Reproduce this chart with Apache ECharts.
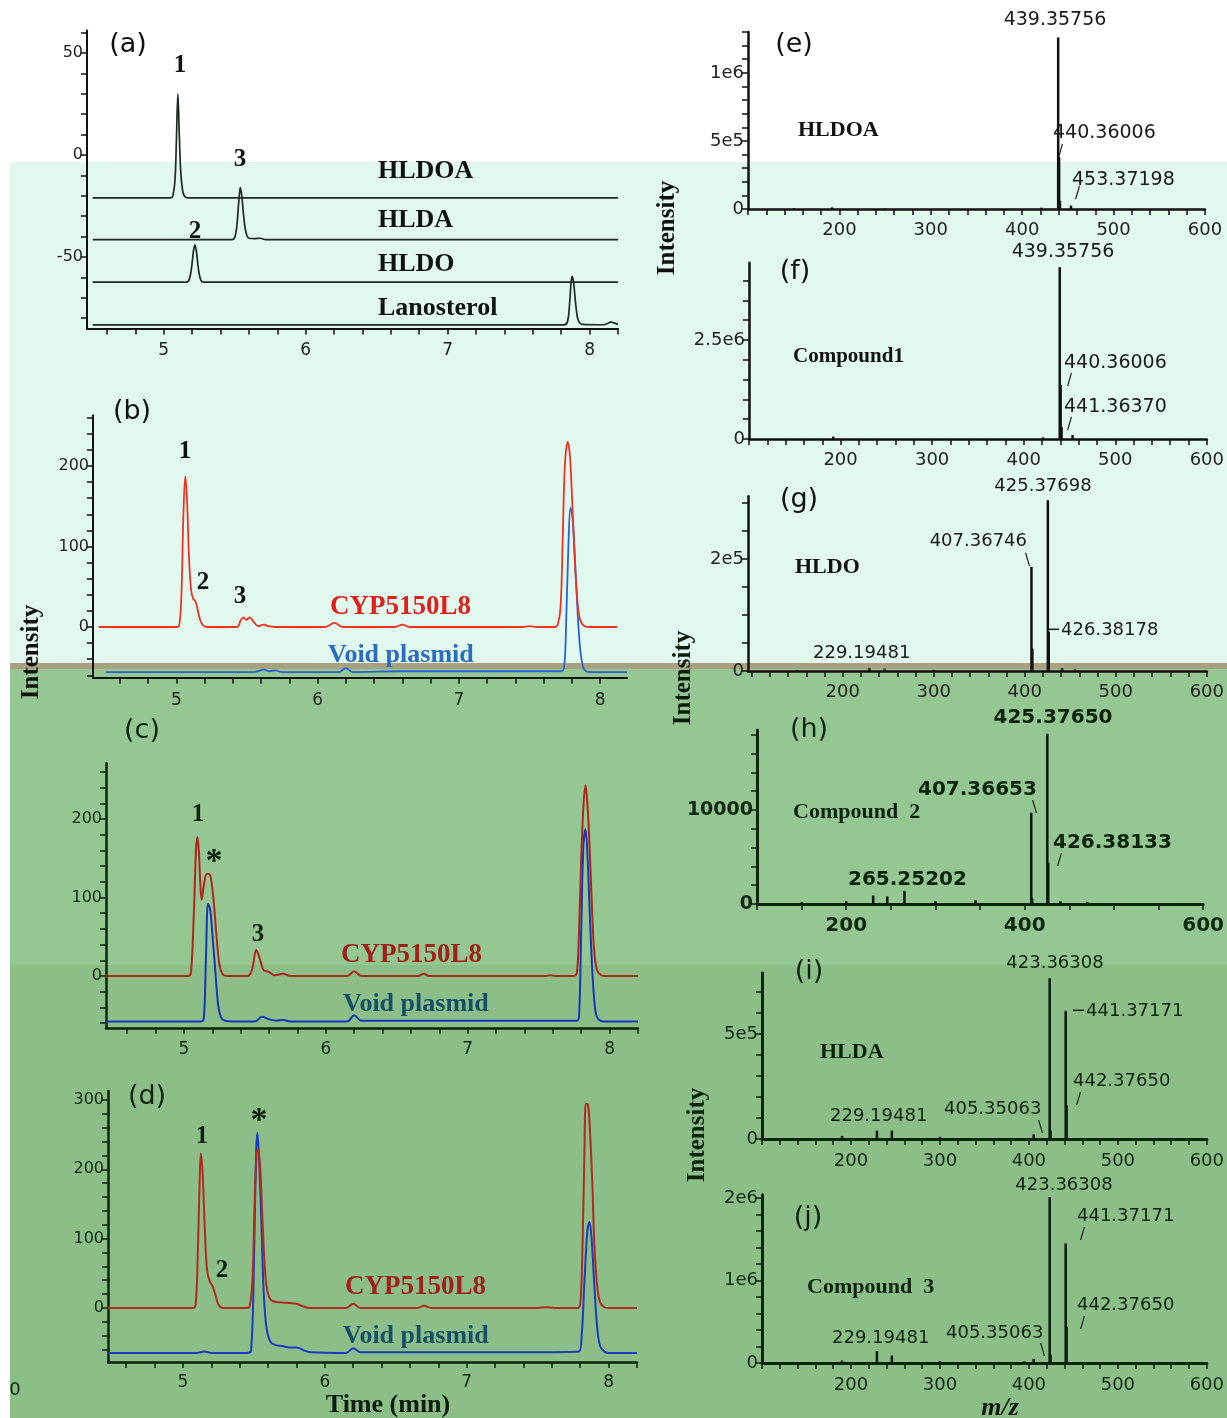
<!DOCTYPE html>
<html><head><meta charset="utf-8">
<script src="https://cdn.jsdelivr.net/npm/echarts@6/dist/echarts.min.js"></script>
<style>html,body{margin:0;padding:0;background:#fff}#c{width:1227px;height:1418px}</style>
</head><body><div id="c"></div>
<script>
// ---------------- DATA ----------------
// (a) standards, retention time (min) vs signal (with display offsets)
const a_HLDOA = [[4.5,-21],[5.05,-21],[5.065,-20],[5.08,-12],[5.09,8],[5.1,30],[5.11,10],[5.12,-8],[5.135,-18],[5.15,-20.5],[5.17,-21],[8.2,-21]];
const a_HLDA = [[4.5,-41.5],[5.48,-41.5],[5.5,-40.5],[5.515,-35],[5.53,-22],[5.54,-16],[5.55,-20],[5.565,-31],[5.58,-38],[5.6,-40.8],[5.64,-41],[5.68,-40.8],[5.72,-41.5],[8.2,-41.5]];
const a_HLDO = [[4.5,-62.3],[5.16,-62.3],[5.18,-61],[5.195,-56],[5.21,-47],[5.22,-44],[5.23,-47],[5.245,-56],[5.26,-61],[5.28,-62.3],[8.2,-62.3]];
const a_Lano = [[4.5,-83.3],[7.82,-83.3],[7.845,-81.5],[7.86,-72],[7.87,-62],[7.878,-59.5],[7.888,-63],[7.905,-75],[7.92,-81],[7.95,-83],[8.1,-83.2],[8.13,-82.5],[8.15,-81.8],[8.17,-82.3],[8.2,-83]];
// (b)
const b_CYP = [[4.45,0],[5.0,0],[5.02,2],[5.035,35],[5.05,140],[5.063,187],[5.075,160],[5.09,85],[5.105,45],[5.12,35],[5.135,32],[5.15,22],[5.17,8],[5.19,2],[5.22,0],[5.43,0],[5.455,8],[5.475,12],[5.495,9],[5.52,12],[5.545,7],[5.58,1],[5.62,3],[5.65,1],[5.7,0],[6.05,0],[6.12,5],[6.18,0],[6.55,0],[6.6,3],[6.65,0],[7.45,0],[7.5,1],[7.55,0],[7.68,0],[7.7,3],[7.72,25],[7.735,110],[7.75,200],[7.77,230],[7.785,215],[7.8,165],[7.82,85],[7.84,30],[7.86,8],[7.89,1],[7.93,0],[8.12,0]];
const b_Void = [[4.5,-56],[5.55,-56],[5.62,-53],[5.66,-55],[5.7,-54],[5.75,-56],[6.15,-56],[6.2,-51],[6.25,-56],[6.6,-55],[7.55,-55],[7.72,-55],[7.745,-50],[7.76,10],[7.775,100],[7.79,148],[7.805,135],[7.82,90],[7.84,20],[7.86,-30],[7.88,-50],[7.9,-55],[7.93,-56],[8.19,-56]];
// (c)
const c_CYP = [[4.45,0],[5.03,0],[5.05,5],[5.07,80],[5.085,160],[5.095,177],[5.105,160],[5.115,120],[5.125,97],[5.14,115],[5.16,130],[5.175,130],[5.19,125],[5.21,95],[5.23,50],[5.25,15],[5.27,3],[5.3,0],[5.45,0],[5.48,8],[5.51,33],[5.535,22],[5.56,8],[5.6,5],[5.64,1],[5.7,3],[5.75,0],[6.15,0],[6.2,6],[6.25,0],[6.65,0],[6.69,3],[6.73,0],[7.55,0],[7.58,1],[7.62,0],[7.75,0],[7.77,5],[7.785,60],[7.8,150],[7.815,215],[7.83,243],[7.845,215],[7.86,160],[7.875,90],[7.89,35],[7.91,8],[7.94,1],[7.97,0],[8.2,0]];
const c_Void = [[4.45,-58],[5.12,-58],[5.14,-55],[5.155,20],[5.17,92],[5.185,85],[5.2,55],[5.22,10],[5.24,-35],[5.26,-52],[5.29,-57],[5.35,-58],[5.5,-58],[5.55,-52],[5.6,-55],[5.65,-57],[5.7,-56],[5.75,-58],[6.15,-58],[6.2,-50],[6.25,-57],[6.65,-57],[7.55,-57],[7.77,-57],[7.785,-50],[7.8,60],[7.815,165],[7.83,187],[7.845,150],[7.86,80],[7.88,0],[7.9,-45],[7.92,-55],[7.96,-58],[8.2,-58]];
// (d)
const d_CYP = [[4.47,0],[5.07,0],[5.09,5],[5.105,80],[5.12,200],[5.127,223],[5.14,190],[5.155,110],[5.17,55],[5.19,38],[5.21,31],[5.23,18],[5.25,5],[5.28,0],[5.45,0],[5.47,2],[5.49,40],[5.505,150],[5.52,225],[5.53,229],[5.545,200],[5.56,130],[5.58,50],[5.6,20],[5.63,10],[5.7,8],[5.75,7],[5.8,6],[5.85,2],[5.9,0],[6.15,0],[6.2,6],[6.25,0],[6.65,0],[6.7,3],[6.75,0],[7.5,0],[7.56,1],[7.62,0],[7.78,0],[7.8,5],[7.815,80],[7.83,230],[7.84,295],[7.855,293],[7.87,250],[7.885,180],[7.9,90],[7.92,30],[7.94,8],[7.97,1],[8.0,0],[8.2,0]];
const d_Void = [[4.47,-65],[5.1,-65],[5.15,-63],[5.2,-65],[5.45,-65],[5.48,-62],[5.5,60],[5.515,220],[5.525,253],[5.54,200],[5.555,110],[5.57,20],[5.59,-30],[5.62,-50],[5.66,-54],[5.7,-55],[5.75,-57],[5.8,-57],[5.85,-61],[5.9,-64],[6.15,-65],[6.2,-58],[6.25,-64],[6.65,-64],[7.5,-64],[7.79,-63],[7.81,-40],[7.83,40],[7.85,110],[7.865,124],[7.88,100],[7.9,30],[7.92,-30],[7.94,-55],[7.97,-63],[8.0,-65],[8.2,-65]];
// mass spectra, m/z vs intensity
const specE = [[150,5e3],[192,1.2e4],[250,3e3],[421,1e4],[439.36,1.26e6],[440.36,3.8e5],[441.36,6e4],[453.37,2.5e4]];
const specF = [[192,6e4],[421,4e4],[439.36,4.34e6],[440.36,1.36e6],[441.36,3e5],[453.37,1e5]];
const specG = [[150,2e3],[229.19,5e3],[246,4e3],[300,2e3],[407.37,1.86e5],[408.37,4e4],[425.38,3.05e5],[426.38,7e4],[441,5e3],[455,3e3]];
const specH = [[150,200],[200,300],[230.2,900],[246,800],[265.25,1400],[300,300],[345,400],[407.37,9700],[408.37,600],[425.38,18100],[426.38,4400],[440,300],[470,200]];
const specI = [[190,1.5e4],[229.19,4e4],[246,4e4],[300,1e4],[405.35,2.2e4],[423.36,7.65e5],[424.37,4e4],[441.37,6.1e5],[442.38,1.6e5]];
const specJ = [[190,3e4],[229.19,1.45e5],[246,9e4],[300,2e4],[395,2e4],[405.35,5e4],[423.36,2.01e6],[424.37,1e5],[441.37,1.45e6],[442.38,4.4e5]];
// tick labels
const timeTicks = [5,6,7,8];
const yLabA = [-50,0,50], yLabB = [0,100,200], yLabC = [0,100,200], yLabD = [0,100,200,300];
const mzTicks = [200,300,400,500,600], mzTicksH = [200,400,600];
const yLabE = [[0,'0'],[5e5,'5e5'],[1e6,'1e6']];
const yLabF = [[0,'0'],[2.5e6,'2.5e6']];
const yLabG = [[0,'0'],[2e5,'2e5']];
const yLabH = [[0,'0'],[10000,'10000']];
const yLabI = [[0,'0'],[5e5,'5e5']];
const yLabJ = [[0,'0'],[1e6,'1e6'],[2e6,'2e6']];

// ---------------- LAYOUT ----------------
function range(a,b,s){const r=[];for(let v=a;v<=b+1e-9;v+=s)r.push(+v.toFixed(6));return r;}
const DK='#111', GR='#0b250b', GRT='#0f2a0f';
const panels = [
 {grid:{left:87,top:30.6,width:531,height:297.8},x:[4.46,8.2],y:[-85,61],xt:range(4.6,8.2,0.2),xl:timeTicks,yt:range(-80,60,10),yl:yLabA.map(v=>[v,String(v)]),ac:DK,lc:'#222',fs:16,xfs:17,lw:2,xm:14},
 {grid:{left:93,top:415.3,width:534,height:262.4},x:[4.41,8.19],y:[-63,263],xt:range(4.6,8.18,0.2),xl:timeTicks,yt:range(-60,260,20),yl:yLabB.map(v=>[v,String(v)]),ac:DK,lc:'#222',fs:16,xfs:17,lw:2,xm:14},
 {grid:{left:106,top:763.3,width:532,height:264.5},x:[4.451,8.2],y:[-66,271],xt:range(4.6,8.2,0.2),xl:timeTicks,yt:range(-60,260,20),yl:yLabC.map(v=>[v,String(v)]),ac:GR,lc:GRT,fs:16,xfs:17,lw:2.5,xm:13},
 {grid:{left:108,top:1091,width:529,height:271},x:[4.472,8.2],y:[-78,313],xt:range(4.6,8.2,0.2),xl:timeTicks,yt:range(-60,300,20),yl:yLabD.map(v=>[v,String(v)]),ac:GR,lc:GRT,fs:16,xfs:17,lw:2.5,xm:12},
 {grid:{left:748,top:32,width:457,height:177},x:[100,600],y:[0,1.3e6],xt:range(100,600,20),xl:mzTicks,yt:range(0,1.3e6,1e5),yl:yLabE,ac:DK,lc:'#222',fs:18,xfs:18,lw:2.5,xm:12},
 {grid:{left:749,top:262.8,width:464,height:176.2},x:[100,600],y:[0,4.45e6],xt:range(100,600,20),xl:mzTicks,yt:range(0,4.45e6,5e5),yl:yLabF,ac:DK,lc:'#222',fs:18,xfs:18,lw:2.5,xm:12},
 {grid:{left:748,top:496.3,width:464,height:174.7},x:[96,600],y:[0,3.12e5],xt:range(100,600,20),xl:mzTicks,yt:range(0,3e5,5e4),yl:yLabG,ac:DK,lc:'#222',fs:18,xfs:18,lw:2.5,xm:12},
 {grid:{left:757,top:730,width:454,height:174},x:[100,600],y:[0,18500],xt:range(100,600,50),xl:mzTicksH,yt:range(0,18000,2000),yl:yLabH,ac:GR,lc:GRT,fs:19,xfs:20,lw:3,bold:true,xm:12},
 {grid:{left:762,top:973,width:455,height:166},x:[100,600],y:[0,7.9e5],xt:range(100,600,20),xl:mzTicks,yt:range(0,7e5,1e5),yl:yLabI,ac:GR,lc:GRT,fs:18,xfs:18,lw:3,xm:13},
 {grid:{left:762,top:1194.7,width:462,height:168.3},x:[100,600],y:[0,2.04e6],xt:range(100,600,20),xl:mzTicks,yt:range(0,2e6,2e5),yl:yLabJ,ac:GR,lc:GRT,fs:18,xfs:18,lw:3,xm:13}
];

const grids=[],xAxes=[],yAxes=[];
panels.forEach((p,i)=>{
  grids.push(Object.assign({containLabel:false,show:false},p.grid));
  const fw = p.bold?'bold':'normal';
  xAxes.push({type:'value',gridIndex:i,min:p.x[0],max:p.x[1],splitLine:{show:false},
    axisLine:{show:true,onZero:false,lineStyle:{color:p.ac,width:p.lw}},
    axisTick:{show:true,customValues:p.xt,length:6,lineStyle:{color:p.ac,width:1.5}},
    axisLabel:{show:true,customValues:p.xl,formatter:v=>String(Math.round(v)),color:p.lc,fontFamily:'DejaVu Sans',fontSize:p.xfs,fontWeight:fw,margin:p.xm}});
  const labs=p.yl;
  yAxes.push({type:'value',gridIndex:i,min:p.y[0],max:p.y[1],splitLine:{show:false},
    axisLine:{show:true,onZero:false,lineStyle:{color:p.ac,width:p.lw}},
    axisTick:{show:true,customValues:p.yt,length:6,lineStyle:{color:p.ac,width:1.5}},
    axisLabel:{show:true,customValues:labs.map(l=>l[0]),formatter:v=>{let best=labs[0];labs.forEach(l=>{if(Math.abs(l[0]-v)<Math.abs(best[0]-v))best=l;});return best[1];},color:p.lc,fontFamily:'DejaVu Sans',fontSize:p.fs,fontWeight:fw,margin:4}});
});

function line(i,data,color,w){return {type:'line',xAxisIndex:i,yAxisIndex:i,data,showSymbol:false,smooth:0.35,lineStyle:{color,width:w},silent:true,z:3};}
function bars(i,data,color){return {type:'bar',xAxisIndex:i,yAxisIndex:i,data,barWidth:2.5,itemStyle:{color},silent:true,z:3};}
const series=[
 line(0,a_HLDOA,'#1d2a22',1.7),line(0,a_HLDA,'#1d2a22',1.7),line(0,a_HLDO,'#1d2a22',1.7),line(0,a_Lano,'#1d2a22',1.7),
 line(1,b_Void,'#2962d6',1.8),line(1,b_CYP,'#ee3326',1.8),
 line(2,c_Void,'#1536b8',2),line(2,c_CYP,'#b0241c',2),
 line(3,d_Void,'#1a3cc0',2),line(3,d_CYP,'#b32a1c',2),
 bars(4,specE,'#111'),bars(5,specF,'#111'),bars(6,specG,'#111'),bars(7,specH,'#081a08'),bars(8,specI,'#081a08'),bars(9,specJ,'#081a08')
];

// ---------------- TEXT / BACKGROUND ----------------
const SERIF='"Liberation Serif","DejaVu Serif",serif', SANS='"DejaVu Sans",sans-serif';
const el=[];
function bg(y0,y1,c){el.push({type:'rect',shape:{x:10,y:y0,width:1217,height:y1-y0},style:{fill:c},z:-100,silent:true});}
bg(162,663,'#e0f8ee');bg(663,669,'#a9a07f');bg(669,965,'#95c792');bg(965,1418,'#8cbf88');
function T(t,x,y,o){o=o||{};el.push({type:'text',x,y,rotation:o.rot||0,z:100,silent:true,style:{text:t,fill:o.c||'#111',
  font:(o.it?'italic ':'')+(o.w||'bold')+' '+(o.s||26)+'px '+(o.f||SERIF),textAlign:o.a||'left',textVerticalAlign:'middle',verticalAlign:'middle',align:o.a||'left'}});}
const g1='#0c240c';
// panel letters
[['(a)',128,45,'#111'],['(b)',132,412,'#111'],['(c)',142,731,g1],['(d)',147,1097,g1],
 ['(e)',794,45,'#111'],['(f)',795,272,'#111'],['(g)',799,500,'#111'],['(h)',809,730,g1],['(i)',809,972,g1],['(j)',808,1218,g1]]
 .forEach(r=>T(r[0],r[1],r[2],{a:'center',w:'normal',s:27,f:SANS,c:r[3]}));
// left peak numbers
[['1',180,66,'#111'],['3',240,160,'#111'],['2',195,232,'#111'],
 ['1',185,452,'#111'],['2',203,583,'#111'],['3',240,597,'#111'],
 ['1',198,815,g1],['3',258,935,g1],['1',202,1137,g1],['2',222,1271,g1]]
 .forEach(r=>T(r[0],r[1],r[2],{a:'center',s:25,c:r[3]}));
T('*',214,862,{a:'center',s:34,c:g1});T('*',259,1121,{a:'center',s:34,c:g1});
// left trace names
T('HLDOA',378,171);T('HLDA',378,220);T('HLDO',378,264);T('Lanosterol',378,308);
T('CYP5150L8',330,607,{c:'#e01f1a',s:27});T('Void plasmid',328,655,{c:'#2b6cc0',s:26});
T('CYP5150L8',341,955,{c:'#a0201a',s:27});T('Void plasmid',343,1004,{c:'#15506a',s:26});
T('CYP5150L8',345,1287,{c:'#a0201a',s:27});T('Void plasmid',343,1336,{c:'#15506a',s:26});
T('Time (min)',388,1405,{a:'center',s:26,c:'#0c1c0c'});
T('Intensity',32,652,{a:'center',s:25,rot:Math.PI/2});
T('0',15,1390,{a:'center',w:'normal',s:18,f:SANS,c:g1});
// right compound names
T('HLDOA',798,130,{s:22});T('Compound1',793,357,{s:21});T('HLDO',795,567,{s:22});
T('Compound  2',793,812,{s:22,c:g1});T('HLDA',820,1052,{s:22,c:g1});T('Compound  3',807,1287,{s:22,c:g1});
T('Intensity',668,228,{a:'center',s:25,rot:Math.PI/2});
T('Intensity',684,678,{a:'center',s:25,rot:Math.PI/2,c:'#0c1c0c'});
T('Intensity',698,1135,{a:'center',s:25,rot:Math.PI/2,c:g1});
T('m/z',1000,1408,{a:'center',s:26,it:true,c:'#0c1c0c'});
// peak annotations
function P(t,x,y,o){o=o||{};T(t,x,y,Object.assign({w:'normal',s:19,f:SANS,c:'#1a1a1a'},o));}
P('439.35756',1055,20,{a:'center'});P('440.36006',1053,133);P('/',1058,152,{s:15});P('453.37198',1072,180);P('/',1075,194,{s:15});
P('439.35756',1063,252,{a:'center'});P('440.36006',1064,363);P('/',1067,381,{s:15});P('441.36370',1064,407);P('/',1067,425,{s:15});
P('425.37698',1043,486,{a:'center',s:18});P('407.36746',1027,541,{a:'right',s:18});P('\\',1025,561,{s:15});P('\u2212426.38178',1046,630,{s:18});P('229.19481',813,653,{s:18});
const hb={w:'bold',s:20,c:g1};
P('425.37650',1053,718,Object.assign({a:'center'},hb));P('407.36653',918,790,hb);P('\\',1032,808,{s:15,c:g1});P('426.38133',1053,843,hb);P('/',1057,861,{s:15,c:g1});P('265.25202',848,880,hb);
const ib={s:18,c:g1};
P('423.36308',1055,963,Object.assign({a:'center'},ib));P('\u2212441.37171',1071,1011,ib);P('442.37650',1073,1081,ib);P('/',1076,1100,{s:15,c:g1});P('405.35063',944,1109,ib);P('\\',1038,1128,{s:15,c:g1});P('229.19481',830,1116,ib);
P('423.36308',1064,1185,Object.assign({a:'center'},ib));P('441.37171',1077,1216,ib);P('/',1080,1235,{s:15,c:g1});P('442.37650',1077,1305,ib);P('/',1080,1324,{s:15,c:g1});P('405.35063',946,1333,ib);P('\\',1040,1351,{s:15,c:g1});P('229.19481',832,1338,ib);

const chart=echarts.init(document.getElementById('c'),null,{renderer:'canvas',width:1227,height:1418});
chart.setOption({animation:false,backgroundColor:'#ffffff',grid:grids,xAxis:xAxes,yAxis:yAxes,series,graphic:{elements:el}});
</script></body></html>
